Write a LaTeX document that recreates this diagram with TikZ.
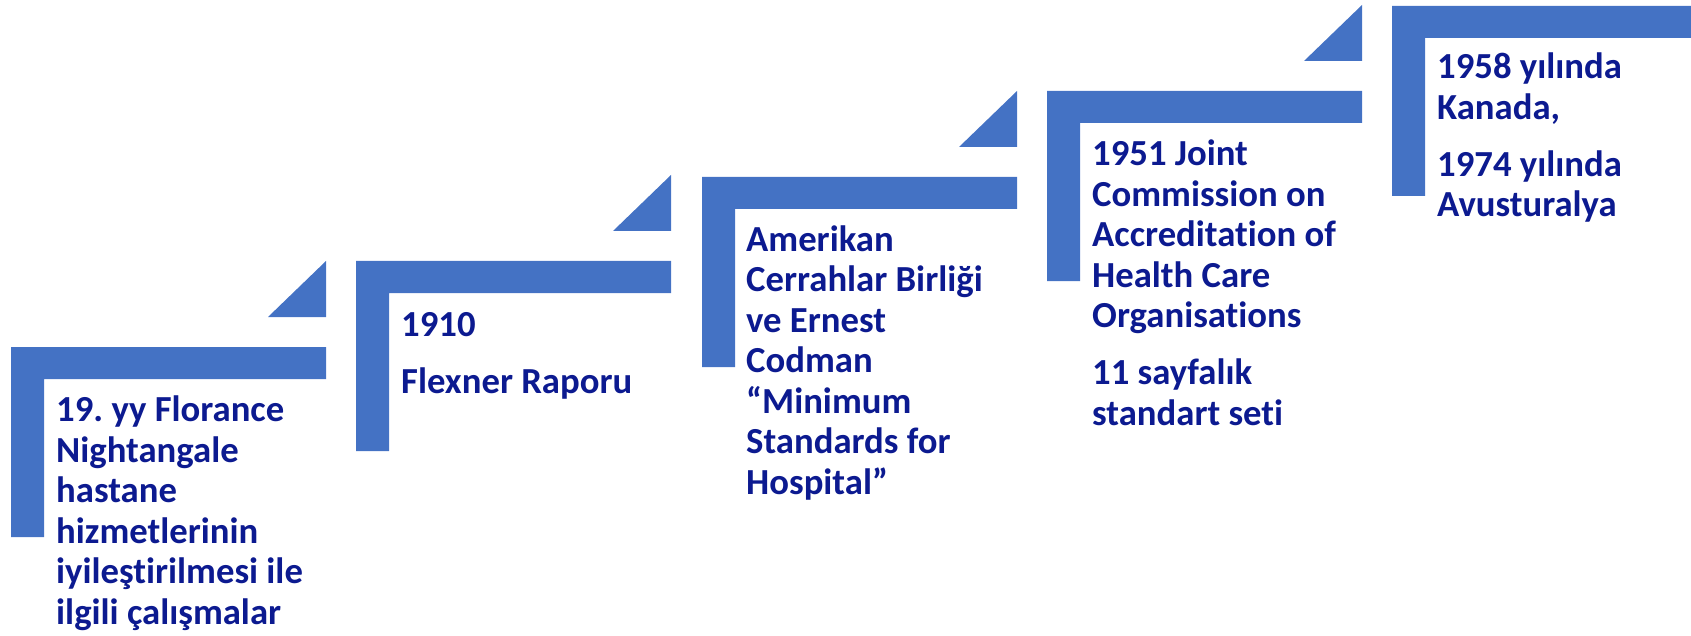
\documentclass[tikz,border=0pt]{standalone}
\usepackage{fontspec}
\setmainfont{Carlito}[Ligatures=NoCommon]
\frenchspacing

\definecolor{stairblue}{HTML}{4472C4}
\definecolor{notenavy}{HTML}{0C1A90}

\tikzset{
    stairbar/.style={fill=stairblue, draw=none},
    % anchored on the baseline of the last line
    stairnote/.style={anchor=base west, inner sep=0pt, align=left,
        text=notenavy, font=\bfseries\fontsize{36.7}{40.5}\selectfont}
}

% one step: corner bracket with its top left corner at (#1,#2)
\newcommand{\stairbracket}[2]{%
    \fill[stairbar] (#1,#2) -- ++(315,0) -- ++(0,32) -- ++(-282,0)
        -- ++(0,158) -- ++(-33,0) -- cycle;}
% small wedge above a step, right edge at (#1,#2)
\newcommand{\stairwedge}[2]{%
    \fill[stairbar] (#1,#2) -- ++(0,56) -- ++(-58,0) -- cycle;}

\begin{document}
\begin{tikzpicture}[x=1pt, y=-1pt]

                \useasboundingbox (0,0) rectangle (1691,636);
                \clip (0,0) rectangle (1691,636);

                % Draw the steps
                \stairbracket{11}{347}
                \stairbracket{356}{261}
                \stairbracket{702}{177}
                \stairbracket{1047}{91}
                \stairbracket{1392}{6}

                % Draw the wedges
                \stairwedge{326}{261}
                \stairwedge{671}{175}
                \stairwedge{1017}{91}
                \stairwedge{1362}{5}

                % Step texts
                \node[stairnote] (note1) at (56,624)
                {19. yy Florance\\Nightangale\\hastane\\hizmetlerinin\\iyileştirilmesi ile\\ilgili çalışmalar};

                \node[stairnote] (note2) at (401,393)
                {1910\\[16.5pt]Flexner Raporu};

                \node[stairnote] (note3) at (746,494)
                {Amerikan\\Cerrahlar Birliği\\ve Ernest\\Codman\\“Minimum\\Standards for\\Hospital”};

                \node[stairnote] (note4) at (1092,425)
                {1951 Joint\\Commission on\\Accreditation of\\Health Care\\Organisations\\[16.5pt]11 sayfalık\\standart seti};

                \node[stairnote] (note5) at (1437,217)
                {1958 yılında\\Kanada,\\[16.5pt]1974 yılında\\Avusturalya};

\end{tikzpicture}
\end{document}
